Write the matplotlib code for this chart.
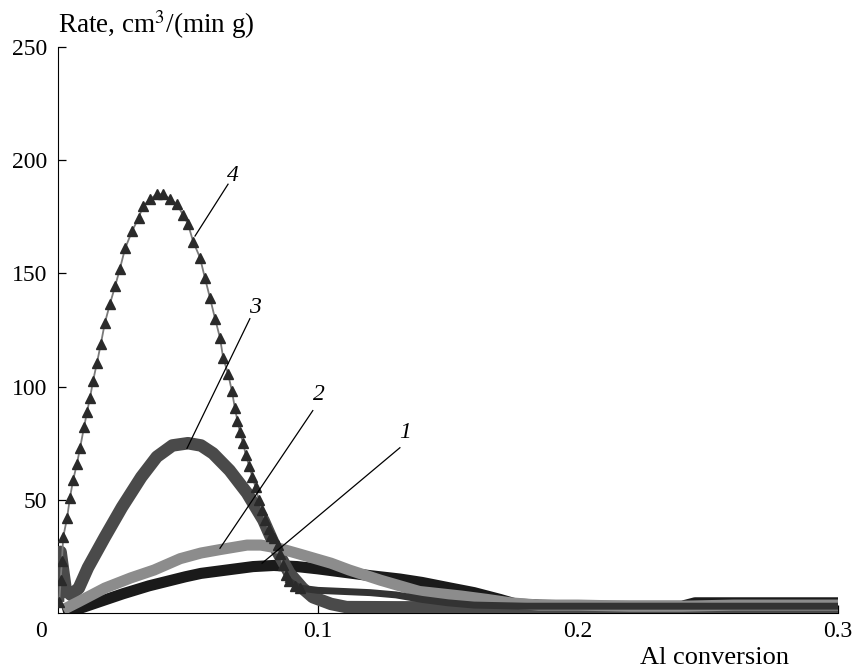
import numpy as np
import matplotlib.pyplot as plt

plt.rcParams['font.family'] = ['Liberation Serif', 'DejaVu Serif']
plt.rcParams['mathtext.fontset'] = 'stix'

# curve 1 (black)
x1 = [0.002, 0.0096, 0.016, 0.025, 0.035, 0.049, 0.055, 0.065, 0.075, 0.083, 0.092, 0.1,
      0.11, 0.12, 0.1315, 0.14, 0.151, 0.16, 0.17, 0.176, 0.185, 0.2, 0.22, 0.24, 0.245,
      0.27, 0.29, 0.3]
y1 = [0, 2.5, 5, 8.5, 12, 16, 17.5, 19, 20.5, 21, 20.5, 19.5, 18, 16.5, 15, 13.5, 11, 9,
      6, 4, 3.5, 3, 3, 3, 4.5, 4.5, 4.5, 4.5]

# curve 2 (light grey)
x2 = [0.002, 0.008, 0.018, 0.028, 0.037, 0.047, 0.055, 0.0623, 0.0727, 0.078, 0.085, 0.093,
      0.105, 0.112, 0.124, 0.139, 0.143, 0.155, 0.165, 0.174, 0.185, 0.2, 0.22, 0.24, 0.26,
      0.28, 0.3]
y2 = [1.5, 5, 11, 15.5, 19, 24, 26.5, 28, 30, 30, 28.6, 26, 22, 19, 14.5, 9.5, 9, 7.5, 6,
      4.5, 3.5, 3.5, 3, 3, 3.5, 3.5, 3.5]

# curve 3 (dark grey)
x3 = [0.0, 0.001, 0.003, 0.005, 0.008, 0.0115, 0.018, 0.0246, 0.032, 0.038, 0.044, 0.05,
      0.055, 0.0596, 0.066, 0.0727, 0.079, 0.084, 0.089, 0.094, 0.098, 0.105, 0.111, 0.13,
      0.15, 0.18, 0.2, 0.23, 0.26, 0.3]
y3 = [5, 27, 10, 8, 11, 20, 33.5, 46.7, 60, 69, 74, 75, 74, 70.5, 63, 53, 41, 28, 17.6,
      11, 7, 4, 2.6, 2.5, 2.5, 2.5, 2.5, 2.5, 2.5, 2.5]

# curve 4 (triangles)
x4 = [0.0005, 0.001, 0.0015, 0.002, 0.0035, 0.0046, 0.0058, 0.0073, 0.0085, 0.010, 0.0112,
      0.0123, 0.0135, 0.015, 0.0165, 0.018, 0.020, 0.022, 0.0238, 0.0258, 0.0285, 0.031,
      0.0327, 0.0354, 0.038, 0.0404, 0.043, 0.0458, 0.048, 0.050, 0.052, 0.0546, 0.0565,
      0.0585, 0.0604, 0.0623, 0.0635, 0.0654, 0.0669, 0.068, 0.069, 0.070, 0.0712, 0.0722,
      0.0735, 0.0748, 0.076, 0.0772, 0.0785, 0.0797, 0.081, 0.082, 0.0832, 0.0845, 0.0855,
      0.0865, 0.0875, 0.089, 0.091, 0.093]
y4 = [5, 14.5, 23, 33.5, 42, 51, 58.6, 66, 73, 82, 89, 95, 102.6, 110.6, 119, 128, 136.6,
      144.5, 152, 161, 168.7, 174.5, 179.7, 182.8, 185, 185, 183, 180.5, 176, 171.8, 164,
      157, 148, 139, 130, 121.6, 112.8, 105.7, 98, 90.7, 85, 80, 75, 70, 65, 60, 55.5, 50,
      45.5, 41, 37, 34, 33, 30, 26, 21, 17, 14, 12, 11]
# curve 4 tail (dense markers merge into a band)
x4t = [0.089, 0.093, 0.1, 0.11, 0.12, 0.13, 0.14, 0.15, 0.16, 0.18, 0.2, 0.25, 0.3]
y4t = [14, 11, 10, 9.5, 9, 8, 6, 4.5, 3.5, 3, 3, 3, 3]

# curve labels and leader lines
labels = ['1', '2', '3', '4']
label_x = [0.1335, 0.1004, 0.0758, 0.0673]
label_y = [79.7, 96.5, 135, 193.4]
lead_x0 = [0.1315, 0.098, 0.0738, 0.0654]
lead_y0 = [73, 89.4, 130, 189.4]
lead_x1 = [0.0785, 0.0623, 0.0496, 0.0527]
lead_y1 = [22, 28.6, 72.7, 166.5]

fig = plt.figure(figsize=(8.56, 6.70), dpi=100)
ax = fig.add_axes([58 / 856, 57 / 670, 780 / 856, 566 / 670])

ax.plot(x1, y1, color='#1a1a1a', lw=8, solid_capstyle='butt', zorder=2)
ax.plot(x3, y3, color='#4a4a4a', lw=9, solid_capstyle='butt', zorder=3)
ax.plot(x2, y2, color='#8c8c8c', lw=8, solid_capstyle='butt', zorder=4)
ax.plot(x4t, y4t, color='#333333', lw=5, zorder=4.5)
ax.plot(x4, y4, color='#7a7a7a', lw=1.3, zorder=5)
ax.plot(x4, y4, ls='none', marker='^', ms=6.5, color='#2a2a2a', zorder=6)

for i in range(len(labels)):
    ax.plot([lead_x0[i], lead_x1[i]], [lead_y0[i], lead_y1[i]], color='black', lw=0.9, zorder=7)
    ax.text(label_x[i], label_y[i], labels[i], fontsize=17, style='italic',
            ha='center', va='center', zorder=7)

ax.set_xlim(0, 0.3)
ax.set_ylim(0, 250)
ax.spines['top'].set_visible(False)
ax.spines['right'].set_visible(False)
ax.set_xticks([0.1, 0.2, 0.3])
ax.set_xticklabels(['0.1', '0.2', '0.3'])
ax.set_yticks([50, 100, 150, 200, 250])
ax.tick_params(direction='in', length=6, width=0.9, labelsize=17)
ax.tick_params(axis='x', pad=6)
ax.tick_params(axis='y', pad=8)
ax.annotate('0', xy=(0, 0), xycoords='axes fraction', xytext=(-12, -6),
            textcoords='offset points', ha='center', va='top', fontsize=17)

fig.text(58 / 856, 1 - 33 / 670, 'Rate, cm$^3$/(min g)', fontsize=19.5,
         ha='left', va='baseline')
fig.text(714 / 856, 1 - 664 / 670, 'Al conversion', fontsize=19,
         ha='center', va='baseline')

fig.savefig('out.png', dpi=100)
